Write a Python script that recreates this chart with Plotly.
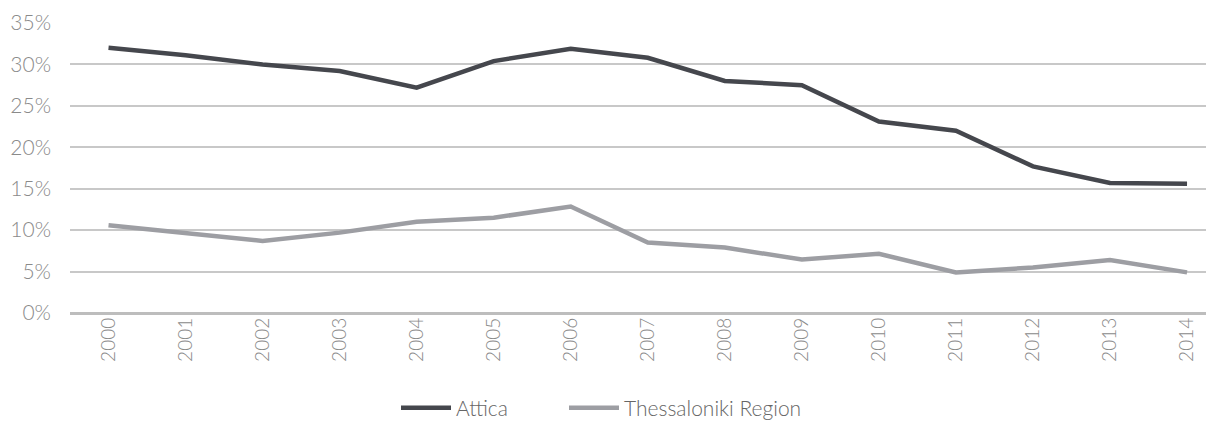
import plotly.graph_objects as go

years = [str(y) for y in range(2000, 2015)]
attica = [32.0, 31.1, 30.0, 29.2, 27.2, 30.4, 31.9, 30.8, 28.0, 27.5, 23.1, 22.0, 17.7, 15.7, 15.6]
thessaloniki = [10.6, 9.6, 8.7, 9.7, 11.0, 11.5, 12.85, 8.5, 7.9, 6.45, 7.15, 4.9, 5.5, 6.4, 4.9]
y_ticks = [0, 5, 10, 15, 20, 25, 30, 35]
y_tick_labels = [f"{v}%" for v in y_ticks]

FONT = "Lato"
TXT = "#8a8a8a"

# page body has an 8px margin; figure is sized to end at the window edge
W, H = 1206, 413

fig = go.Figure()
fig.add_trace(go.Scatter(x=list(range(len(years))), y=attica, name="Attica", mode="lines",
                         line=dict(color="#45474d", width=4.5), legend="legend"))
fig.add_trace(go.Scatter(x=list(range(len(years))), y=thessaloniki, name="Thessaloniki Region", mode="lines",
                         line=dict(color="#9d9ea3", width=4.5), legend="legend2"))

leg_common = dict(orientation="h", xref="container", xanchor="left",
                  y=13 / H, yref="container", yanchor="middle",
                  font=dict(size=21, color="#666666", family=FONT, weight=300),
                  itemwidth=50, bgcolor="rgba(0,0,0,0)")

fig.update_layout(
    width=W, height=H,
    margin=dict(l=62, r=0, t=15, b=108, autoexpand=False),
    paper_bgcolor="white", plot_bgcolor="white",
    font=dict(family=FONT, color=TXT, size=17, weight=300),
    showlegend=True,
    legend=dict(x=(402 - 8 - 6) / W, **leg_common),
    legend2=dict(x=(570 - 8 - 6) / W, **leg_common),
    xaxis=dict(
        tickmode="array", tickvals=list(range(len(years))), ticktext=years,
        range=[-0.5, 14.35], tickangle=-90, showgrid=False, zeroline=False,
        showline=False, ticks="", tickfont=dict(size=19, color=TXT), automargin=False,
    ),
    yaxis=dict(
        range=[0, 35], tickmode="array", tickvals=y_ticks, ticktext=y_tick_labels,
        showgrid=True, gridcolor="#c8c8c8", gridwidth=1.5, zeroline=True,
        zerolinecolor="#bdbdbd", zerolinewidth=3, showline=False, ticks="",
        ticklabelstandoff=18, tickfont=dict(size=21, color=TXT), automargin=False,
    ),
)

fig.write_html("out.html")
